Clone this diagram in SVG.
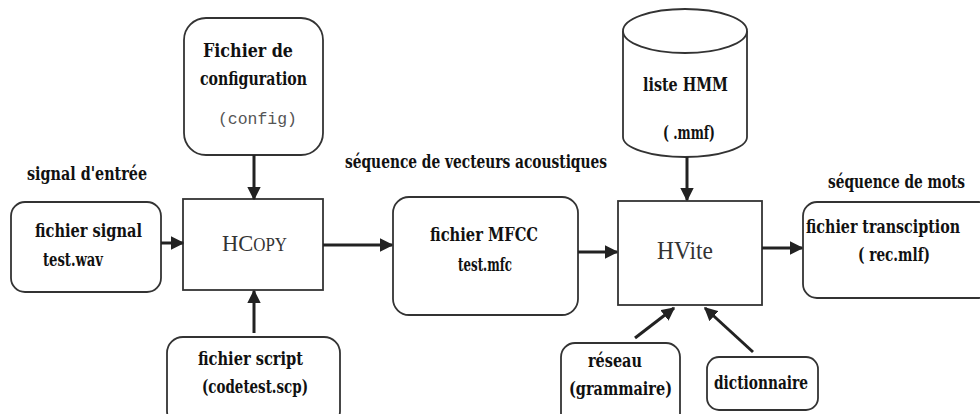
<svg xmlns="http://www.w3.org/2000/svg" width="980" height="414" viewBox="0 0 980 414">
<style>
.box{fill:#fff;stroke:#333;stroke-width:1.8}
.lbl{font-family:"DejaVu Serif Condensed","Liberation Serif","DejaVu Serif",serif;font-stretch:condensed;font-weight:bold;font-size:19px;fill:#111}
.cap{font-family:"DejaVu Serif Condensed","Liberation Serif","DejaVu Serif",serif;font-stretch:condensed;font-weight:bold;font-size:18px;fill:#111}
.mono{font-family:"Liberation Mono","DejaVu Sans Mono",monospace;font-size:17px;fill:#555}
.big{font-family:"Liberation Serif","DejaVu Serif",serif;fill:#333}
.con{stroke:#222;stroke-width:3;fill:none;marker-end:url(#ah)}
</style>
<defs>
<marker id="ah" viewBox="0 0 10 10" refX="9" refY="5" markerWidth="4.5" markerHeight="4.5" orient="auto" markerUnits="strokeWidth">
<path d="M0,0 L10,5 L0,10 z" fill="#222"/>
</marker>
</defs>
<rect width="980" height="414" fill="#fff"/>

<g id="labels">
<text class="cap" x="27" y="180" textLength="120" lengthAdjust="spacingAndGlyphs">signal d'entrée</text>
<text class="cap" x="345" y="168" textLength="262" lengthAdjust="spacingAndGlyphs">séquence de vecteurs acoustiques</text>
<text class="cap" x="0" y="0" font-size="17" transform="translate(828,188) scale(0.846,1)" textLength="162" lengthAdjust="spacingAndGlyphs">séquence de mots</text>
</g>

<g id="config">
<rect class="box" x="184" y="18" width="139" height="137" rx="22"/>
<text class="lbl" x="203" y="57" textLength="90" lengthAdjust="spacingAndGlyphs">Fichier de</text>
<text class="lbl" x="200" y="85" textLength="107" lengthAdjust="spacingAndGlyphs">configuration</text>
<text class="mono" x="218" y="124" textLength="79" lengthAdjust="spacingAndGlyphs">(config)</text>
</g>

<g id="signal">
<rect class="box" x="11" y="202" width="150" height="90" rx="14"/>
<text class="lbl" x="35" y="237" textLength="107" lengthAdjust="spacingAndGlyphs">fichier signal</text>
<text class="lbl" x="43" y="266" textLength="60" lengthAdjust="spacingAndGlyphs">test.wav</text>
</g>

<g id="hcopy">
<rect class="box" x="183" y="199" width="140" height="91" rx="0"/>
<text class="big" x="222" y="251" textLength="65" lengthAdjust="spacingAndGlyphs"><tspan font-size="24">HC</tspan><tspan font-size="18">OPY</tspan></text>
</g>

<g id="script">
<rect class="box" x="167" y="337" width="173" height="90" rx="16"/>
<text class="lbl" x="198" y="365" textLength="105" lengthAdjust="spacingAndGlyphs">fichier script</text>
<text class="lbl" x="202" y="393" textLength="106" lengthAdjust="spacingAndGlyphs">(codetest.scp)</text>
</g>

<g id="mfcc">
<rect class="box" x="393" y="197" width="185" height="118" rx="16"/>
<text class="lbl" x="430" y="241" textLength="108" lengthAdjust="spacingAndGlyphs">fichier MFCC</text>
<text class="lbl" x="458" y="271" textLength="54" lengthAdjust="spacingAndGlyphs">test.mfc</text>
</g>

<g id="hmm">
<path class="box" d="M623,31 L623,137 A62,20 0 0 0 747,137 L747,31"/>
<ellipse class="box" cx="685" cy="31" rx="62" ry="22"/>
<text class="lbl" x="643" y="91" textLength="85" lengthAdjust="spacingAndGlyphs">liste HMM</text>
<text class="lbl" x="663" y="139" textLength="52" lengthAdjust="spacingAndGlyphs">( .mmf)</text>
</g>

<g id="hvite">
<rect class="box" x="618" y="201" width="144" height="104"/>
<text class="big" x="657" y="259" font-size="26" textLength="56" lengthAdjust="spacingAndGlyphs">HVite</text>
</g>

<g id="transcription">
<rect class="box" x="803" y="202" width="190" height="96" rx="14"/>
<text class="lbl" x="0" y="0" font-size="17" transform="translate(806,233) scale(0.837,1)" textLength="184" lengthAdjust="spacingAndGlyphs">fichier transciption</text>
<text class="lbl" x="858" y="261" textLength="72" lengthAdjust="spacingAndGlyphs">( rec.mlf)</text>
</g>

<g id="reseau">
<rect class="box" x="561" y="343" width="119" height="90" rx="14"/>
<text class="lbl" x="588" y="367" textLength="54" lengthAdjust="spacingAndGlyphs">réseau</text>
<text class="lbl" x="569" y="395" textLength="103" lengthAdjust="spacingAndGlyphs">(grammaire)</text>
</g>

<g id="dictionnaire">
<rect class="box" x="707" y="357" width="111" height="53" rx="12"/>
<text class="lbl" x="714" y="389" textLength="94" lengthAdjust="spacingAndGlyphs">dictionnaire</text>
</g>

<g id="connectors">
<line class="con" x1="254" y1="155" x2="254" y2="199"/>
<line class="con" x1="161" y1="243" x2="183" y2="243"/>
<line class="con" x1="254" y1="333" x2="254" y2="291"/>
<line class="con" x1="323" y1="245" x2="392" y2="245"/>
<line class="con" x1="578" y1="252" x2="617" y2="252"/>
<line class="con" x1="687" y1="157" x2="687" y2="200"/>
<line class="con" x1="762" y1="248" x2="802" y2="248"/>
<line class="con" x1="635" y1="338" x2="674" y2="308"/>
<line class="con" x1="753" y1="352" x2="705" y2="308"/>
</g>
</svg>
